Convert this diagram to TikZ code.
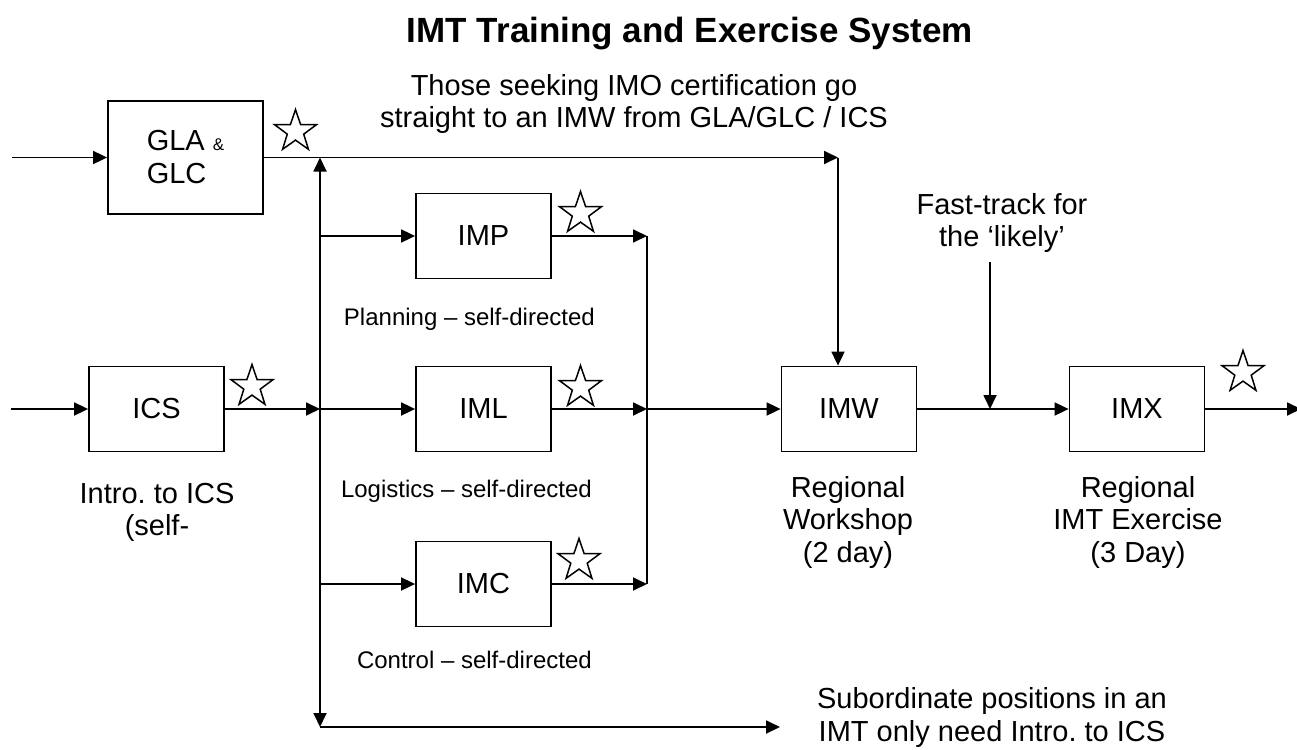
\documentclass[tikz,border=0pt]{standalone}
\usepackage{fontspec}
\setmainfont{Liberation Sans}
\usetikzlibrary{arrows.meta,shapes.geometric}
\frenchspacing
\begin{document}
\begin{tikzpicture}[x=1pt,y=-1pt,
  box/.style={draw,line width=1.8pt,minimum width=135pt,minimum height=85pt,inner sep=0pt,font=\fontsize{29}{33}\selectfont},
  lbl/.style={font=\fontsize{29}{32.5}\selectfont,align=center,inner sep=0pt},
  small/.style={font=\fontsize{24}{28}\selectfont,inner sep=0pt},
  conn/.style={line width=1.8pt},
  arr/.style={conn,-{Triangle[length=14pt,width=13pt]}},
  award/.style={star,star points=5,star point ratio=2.55,draw,line width=1.5pt,minimum size=44pt,inner sep=0pt}
]
\useasboundingbox (0,0) rectangle (1297,749);

% title and notes (anchor=base is the last line's baseline)
\node[font=\bfseries\fontsize{35}{40}\selectfont,anchor=base,inner sep=0pt] (title) at (690,43) {IMT Training and Exercise System};
\node[lbl,anchor=base] (note) at (634,128) {Those seeking IMO certification go\\straight to an IMW from GLA/GLC / ICS};

% boxes
\node[box,minimum width=155pt,minimum height=113pt,align=left] (gla) at (185.5,157.5) {GLA {\fontsize{17}{17}\selectfont\&}\\GLC};
\node[box] (ics) at (156.5,409) {ICS};
\node[box] (imp) at (483.5,236) {IMP};
\node[box] (iml) at (483.5,409) {IML};
\node[box] (imc) at (483.5,584) {IMC};
\node[box] (imw) at (849,409) {IMW};
\node[box] (imx) at (1137,409) {IMX};

% stars
\node[award] (s1) at (295.5,131.5) {};
\node[award] (s2) at (252,386.5) {};
\node[award] (s3) at (580.5,213.5) {};
\node[award] (s4) at (580.5,387.5) {};
\node[award] (s5) at (579,560.5) {};
\node[award] (s6) at (1243,372.5) {};

% junction coordinates
\coordinate (inG) at (12,157.5);
\coordinate (inI) at (11,409);
\coordinate (jTop) at (320,157.5);
\coordinate (jMid) at (320,409);
\coordinate (jP) at (320,236);
\coordinate (jC) at (320,584);
\coordinate (jBot) at (320,727);
\coordinate (sub) at (780,727);
\coordinate (cTop) at (838,157.5);
\coordinate (mP) at (647,236);
\coordinate (mL) at (647,409);
\coordinate (mC) at (647,584);
\coordinate (ftTop) at (990,262);
\coordinate (ftBot) at (990,409);
\coordinate (out) at (1301,409);

% connectors
\draw[arr] (inG) -- (gla);
\draw[arr] (gla.east |- inG) -- (cTop);
\draw[arr] (cTop) -- (cTop |- imw.north);
\draw[arr] (inI) -- (ics);
\draw[arr] (ics) -- (jMid);
\draw[arr] (jMid) -- (jTop);
\draw[arr] (jMid) -- (jBot);
\draw[arr] (jBot) -- (sub);
\draw[arr] (jP) -- (imp);
\draw[arr] (jMid) -- (iml);
\draw[arr] (jC) -- (imc);
\draw[arr] (imp) -- (mP);
\draw[arr] (iml) -- (mL);
\draw[arr] (imc) -- (mC);
\draw[conn] (mP) -- (mC);
\draw[arr] (mL) -- (imw);
\draw[arr] (imw) -- (imx);
\draw[arr] (ftTop) -- (ftBot);
\draw[arr] (imx) -- (out);

% labels
\node[small,anchor=base east] (lp) at (595,325) {Planning – self-directed};
\node[small,anchor=base east] (ll) at (592,497) {Logistics – self-directed};
\node[small,anchor=base east] (lc) at (592,668) {Control – self-directed};
\node[lbl,anchor=base] (lics) at (157,535.5) {Intro. to ICS\\(self-};
\node[lbl,anchor=base] (limw) at (848,562) {Regional\\Workshop\\(2 day)};
\node[lbl,anchor=base] (limx) at (1138,562) {Regional\\IMT Exercise\\(3 Day)};
\node[lbl,anchor=base] (lft) at (1002,246.5) {Fast-track for\\the ‘likely’};
\node[lbl,anchor=base] (lsub) at (992,741) {Subordinate positions in an\\IMT only need Intro. to ICS};
\end{tikzpicture}
\end{document}
